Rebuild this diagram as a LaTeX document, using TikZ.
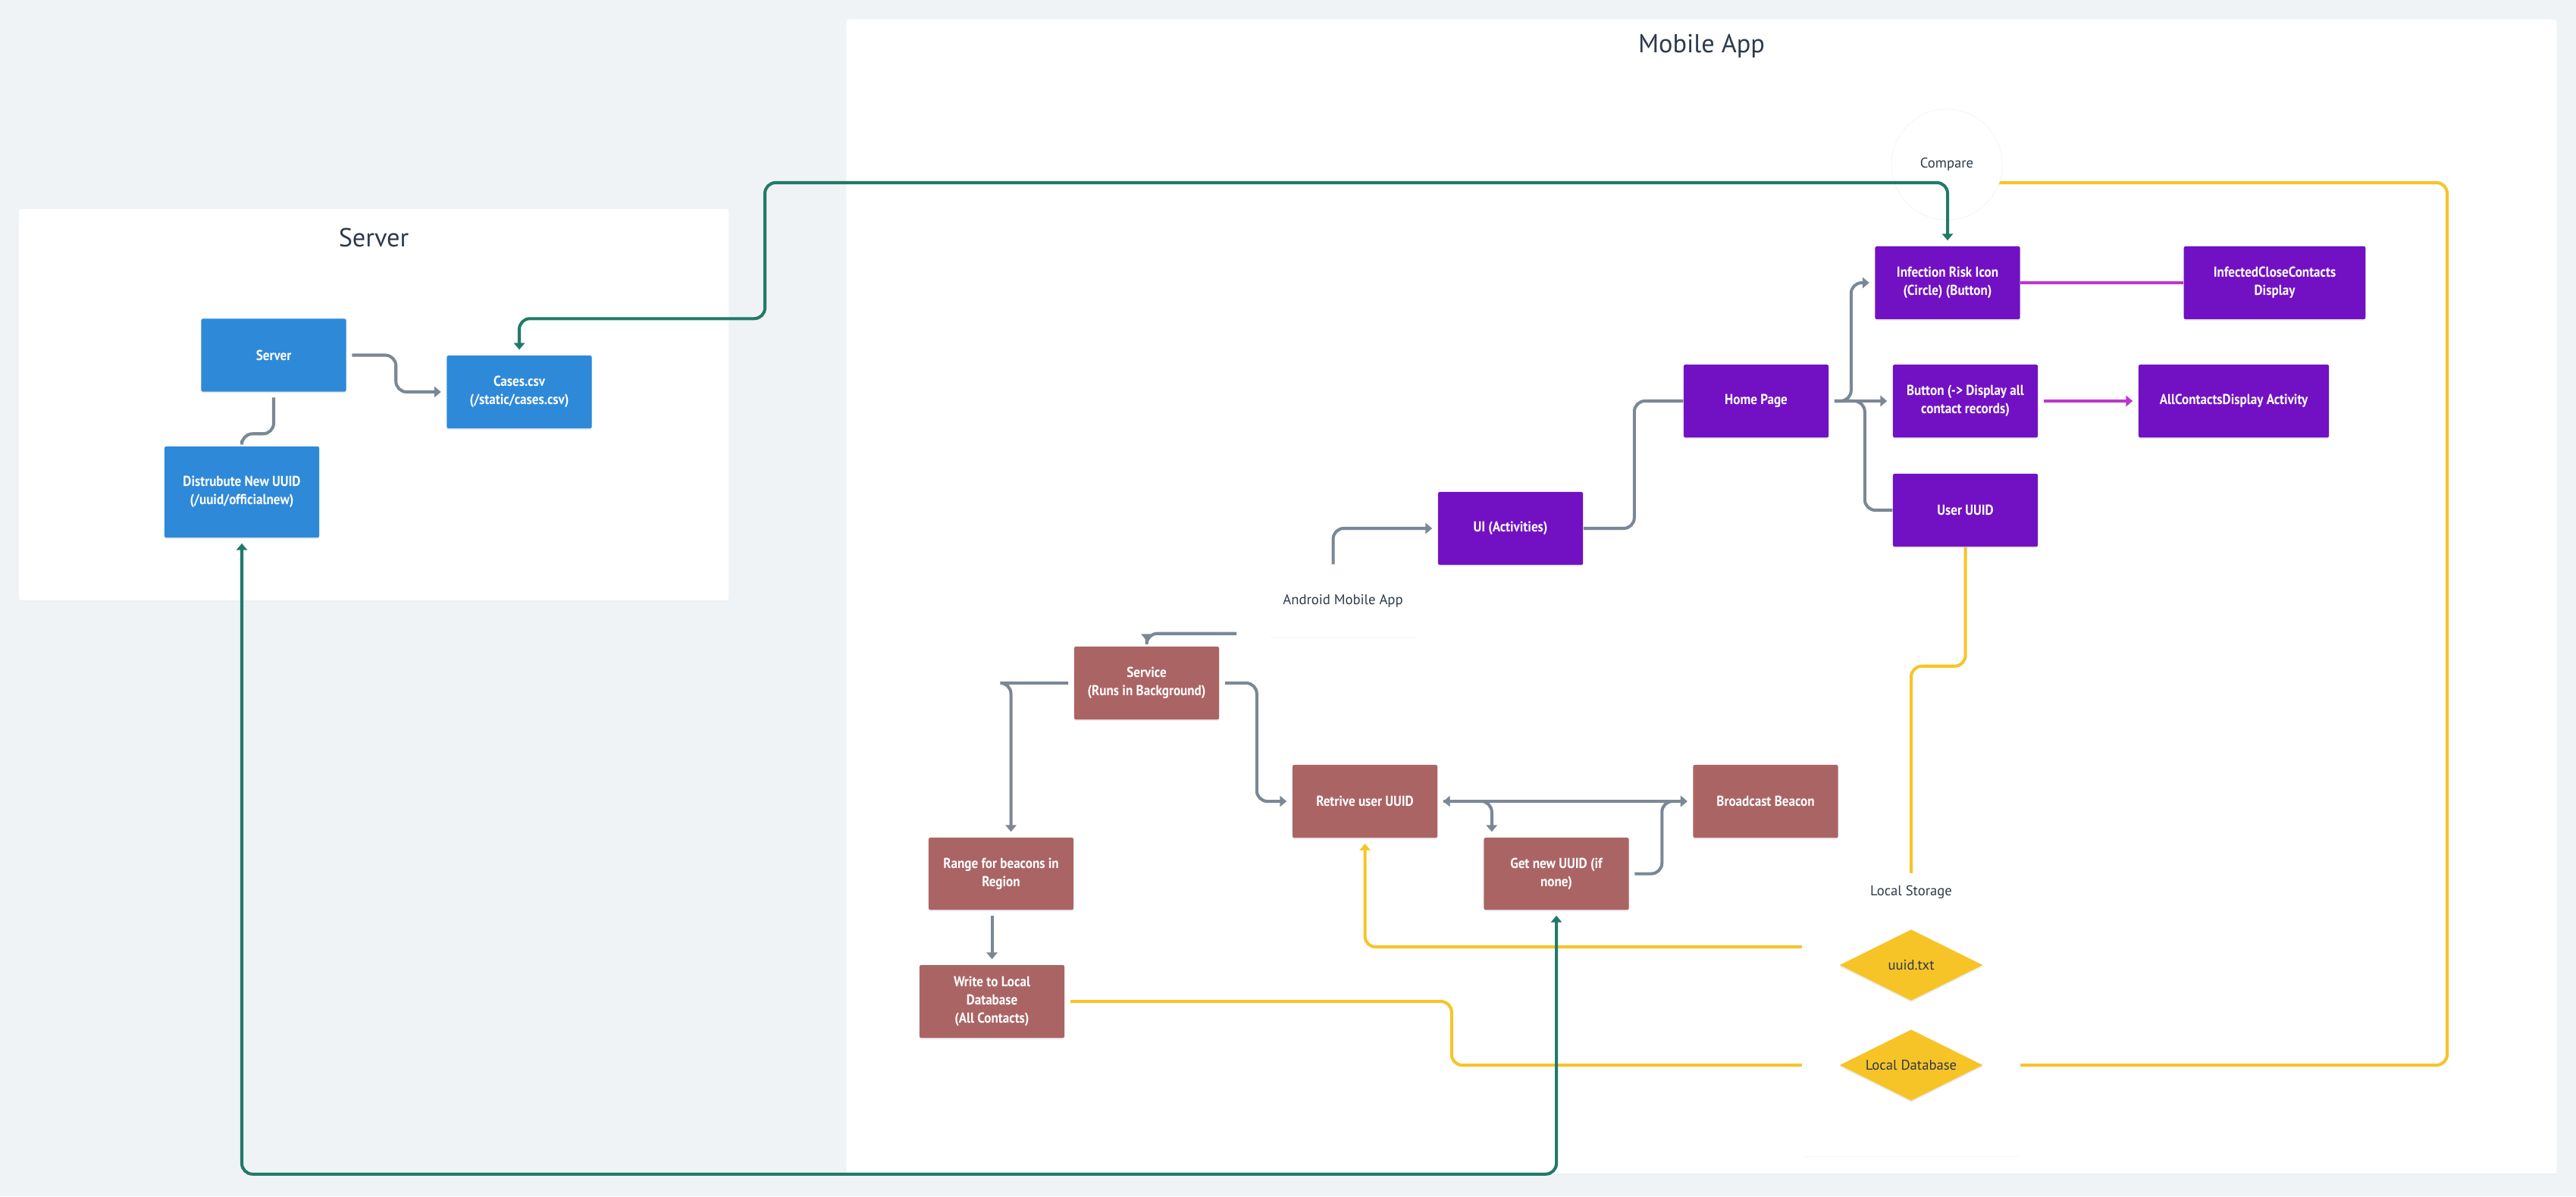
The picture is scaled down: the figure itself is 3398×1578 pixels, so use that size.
\documentclass[tikz,border=0pt]{standalone}
\usepackage{fontspec}
\setmainfont{PT Sans}[BoldFeatures={FakeStretch=0.9}]
\usetikzlibrary{arrows.meta,shapes.geometric,shadows}

\definecolor{bgcol}{HTML}{EFF3F6}
\definecolor{ink}{HTML}{2C3A4B}
\definecolor{faint}{HTML}{F4F5F7}
\definecolor{srvblue}{HTML}{2E89D9}
\definecolor{appviolet}{HTML}{7211C3}
\definecolor{svcred}{HTML}{AB6464}
\definecolor{storegold}{HTML}{F7C428}
\definecolor{syncteal}{HTML}{217A68}
\definecolor{wiregray}{HTML}{7A8896}
\definecolor{linkpink}{HTML}{BE36CA}

\pgfdeclarelayer{back}
\pgfdeclarelayer{wires}
\pgfsetlayers{back,wires,main}

\begin{document}
\begin{tikzpicture}[x=0.01cm, y=-0.01cm,
	tri/.tip={Triangle[length=2.5pt,width=4pt]},
	box/.style={rectangle, rounded corners=0.6pt, fill=#1, text=white, align=center,
		font=\fontsize{5.4}{6.8}\selectfont\bfseries, inner sep=0pt,
		minimum width=1.91cm, minimum height=0.96cm,
		drop shadow={opacity=0.15, shadow xshift=0pt, shadow yshift=-0.6pt}},
	panel/.style={rectangle, rounded corners=1pt, fill=white, inner sep=0pt,
		drop shadow={opacity=0.05, shadow xshift=0pt, shadow yshift=-0.4pt}},
	tag/.style={text=ink, font=\fontsize{5.3}{6.8}\selectfont},
	title/.style={text=ink, font=\fontsize{9.75}{12}\selectfont},
	store/.style={diamond, aspect=2, fill=storegold, inner sep=0pt, tag,
		minimum width=1.89cm, minimum height=0.94cm,
		drop shadow={opacity=0.15, shadow xshift=0pt, shadow yshift=-0.6pt}},
	wire/.style={draw=#1, line width=1.15pt, rounded corners=4pt},
	gap/.style={shorten <=2pt, shorten >=2pt}
]

	\begin{pgfonlayer}{back}
		\fill [bgcol] (0,0) rectangle (3398,1578);
		\node [panel, minimum width=9.36cm, minimum height=5.16cm] (serverpanel) at (493,534) {};
		\node [panel, minimum width=22.55cm, minimum height=15.22cm] (apppanel) at (2244.5,787) {};
	\end{pgfonlayer}

	\node [title] (servertitle) at (493,313) {Server};
	\node [title] (apptitle) at (2244.5,61) {Mobile App};

	\node [box=srvblue] (server) at (361,468.5) {Server};
	\node [box=srvblue] (cases) at (685,517) {Cases.csv\\(/static/cases.csv)};
	\node [box=srvblue, minimum width=2.04cm, minimum height=1.2cm] (distribute) at (319,649) {Distrubute New UUID\\(/uuid/officialnew)};

	\node [panel, tag, minimum width=1.95cm, minimum height=0.95cm] (android) at (1771.5,792.5) {Android Mobile App};

	\node [box=appviolet] (ui) at (1992.5,697) {UI (Activities)};
	\node [box=appviolet] (home) at (2316.5,529) {Home Page};
	\node [box=appviolet] (infection) at (2569,373) {Infection Risk Icon\\(Circle) (Button)};
	\node [box=appviolet, minimum width=2.395cm] (infected) at (3000.5,373) {InfectedCloseContacts\\Display};
	\node [box=appviolet] (button) at (2592.5,529) {Button (-> Display all\\contact records)};
	\node [box=appviolet, minimum width=2.51cm] (allcontacts) at (2946.5,529) {AllContactsDisplay Activity};
	\node [box=appviolet] (user) at (2592.5,673) {User UUID};

	\node [box=svcred] (service) at (1512.5,901) {Service\\(Runs in Background)};
	\node [box=svcred] (retrive) at (1800.5,1057) {Retrive user UUID};
	\node [box=svcred] (broadcast) at (2329,1057) {Broadcast Beacon};
	\node [box=svcred, minimum height=0.95cm] (getnew) at (2053,1152.5) {Get new UUID (if\\none)};
	\node [box=svcred, minimum height=0.95cm] (range) at (1320.5,1152.5) {Range for beacons in\\Region};
	\node [box=svcred] (write) at (1308.5,1321) {Write to Local\\Database\\(All Contacts)};

	\node [panel, minimum width=2.88cm, minimum height=3.73cm] (storage) at (2521,1338.5) {};
	\node [tag] (storagetitle) at (2521,1177) {Local Storage};
	\node [store] (uuid) at (2521,1273) {uuid.txt};
	\node [store] (localdb) at (2521,1405) {Local Database};

	\begin{pgfonlayer}{wires}
		\coordinate (goldtop) at (3228,241);
		\draw [wire=storegold] (user.south) -- ++(0,157) -| (uuid.north);
		\draw [wire=storegold, arrows={-tri}, shorten >=2pt] (uuid.north west) -| (retrive.south);
		\draw [wire=storegold, shorten <=2pt] (write.east) -- ++(510,0) |- (localdb.west);
		\draw [wire=storegold] (localdb.east) -| (goldtop) -- (2637,241);
	\end{pgfonlayer}

	\node [circle, fill=white, draw=faint, line width=0.25pt, tag, minimum size=1.46cm] (compare) at (2568,217) {Compare};

	\coordinate (tealtop) at (1009,241);
	\draw [wire=syncteal, gap, arrows={tri-tri}] (cases.north) -- ++(0,-48) -| (tealtop) -| (infection.north);
	\draw [wire=syncteal, gap, arrows={tri-tri}] (distribute.south) -- ++(0,839) -| (getnew.south);

	\draw [wire=wiregray, gap, arrows={-tri}] (server.east) -- ++(65,0) |- (cases.west);
	\draw [wire=wiregray, gap] (server.south) -- ++(0,55) -| (distribute.north);

	\draw [wire=wiregray, arrows={-tri}, shorten >=2pt] ([xshift=-0.13cm]android.north) |- (ui.west);
	\draw [wire=wiregray, arrows={-tri}, shorten >=2pt] ([xshift=-0.42cm, yshift=0.05cm]android.south west) -| (service.north);
	\draw [wire=wiregray] (ui.east) -- ++(67,0) |- (home.west);
	\draw [wire=wiregray, gap, arrows={-tri}] (home.east) -- ++(29,0) |- (infection.west);
	\draw [wire=wiregray, gap, arrows={-tri}] (home.east) -- (button.west);
	\draw [wire=wiregray, shorten <=2pt] (home.east) -- ++(47,0) |- (user.west);

	\draw [wire=linkpink] (infection.east) -- (infected.west);
	\draw [wire=linkpink, gap, arrows={-tri}] (button.east) -- (allcontacts.west);

	\draw [wire=wiregray, gap, arrows={-tri}] (service.west) -- ++(-84,0) -| ([xshift=0.13cm]range.north);
	\draw [wire=wiregray, gap, arrows={-tri}] (service.east) -- ++(49,0) |- (retrive.west);
	\draw [wire=wiregray, gap, arrows={-tri}] (range.south -| write.north) -- (write.north);
	\draw [wire=wiregray, gap, arrows={tri-tri}] (retrive.east) -- (broadcast.west);
	\draw [wire=wiregray, gap, arrows={-tri}] (retrive.east) -| ([xshift=0.11cm]getnew.north west);
	\draw [wire=wiregray, gap, arrows={-tri}] (getnew.east) -- ++(43,0) |- (broadcast.west);

\end{tikzpicture}
\end{document}
